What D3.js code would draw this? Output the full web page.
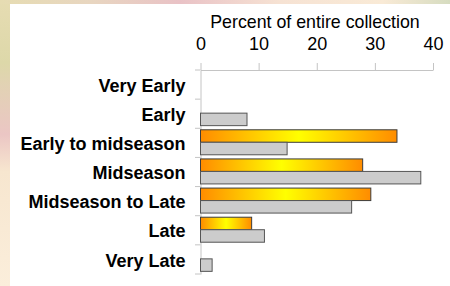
<!DOCTYPE html>
<html>
<head>
<meta charset="utf-8">
<script src="https://cdn.jsdelivr.net/npm/d3@7"></script>
<style>
  body { margin: 0; padding: 0; overflow: hidden; }
  #chart { width: 450px; height: 286px; }
  text { font-family: Arial, "Liberation Sans", sans-serif; fill: #000; }
</style>
</head>
<body>
<div id="chart"></div>
<script>
var width = 450,
height = 286;

// ripening season of the collection
var categories = ["Very Early", "Early", "Early to midseason", "Midseason", "Midseason to Late", "Late", "Very Late"];
var series = ["orange", "gray"];
var orangeValues = [0, 0, 33.8, 27.9, 29.3, 8.8, 0];
var grayValues = [0, 8.0, 14.9, 37.9, 26.0, 11.0, 2.0];
var xTicks = [0, 10, 20, 30, 40];

var svg = d3.select("#chart").append("svg")
  .attr("width", width)
  .attr("height", height);

var defs = svg.append("defs");

// the blurry photo border round the slide
var sideGrad = defs.append("linearGradient").attr("id", "side")
  .attr("x1", 0).attr("y1", 0).attr("x2", 0).attr("y2", 1);
[[0, "#e6dcb2"], [0.22, "#ddd8a9"], [0.3, "#e2d2b4"], [0.47, "#ebc6c4"], [0.6, "#f7e6cf"], [1, "#fbeedb"]].forEach(function(s){
  sideGrad.append("stop").attr("offset", s[0]).attr("stop-color", s[1]);
});
var topGrad = defs.append("linearGradient").attr("id", "topband")
  .attr("x1", 0).attr("y1", 0).attr("x2", 1).attr("y2", 0);
[[0, "#e6dcb2"], [0.2, "#e8d6c0"], [0.4, "#e9c2c6"], [0.62, "#f6e2d3"], [0.85, "#f9ead6"], [1, "#d6dcc0"]].forEach(function(s){
  topGrad.append("stop").attr("offset", s[0]).attr("stop-color", s[1]);
});

var fire = defs.append("linearGradient").attr("id", "fire")
  .attr("x1", 0).attr("y1", 0).attr("x2", 1).attr("y2", 0);
fire.append("stop").attr("offset", 0).attr("stop-color", "#ff8c00");
fire.append("stop").attr("offset", 0.5).attr("stop-color", "#ffff00");
fire.append("stop").attr("offset", 1).attr("stop-color", "#ff8c00");

svg.append("rect").attr("width", width).attr("height", height).attr("fill", "url(#side)");
svg.append("rect").attr("width", width).attr("height", 4).attr("fill", "url(#topband)");
svg.append("rect").attr("x", 10).attr("y", 4).attr("width", width - 10).attr("height", height - 4).attr("fill", "#fff");

var x = d3.scaleLinear().domain([0, 40]).range([200.5, 433]);
var y = d3.scaleBand().domain(categories).range([70, 274]);
var ySub = d3.scaleBand().domain(series).range([1.5, 26.5]);

// top axis
var xAxis = svg.append("g")
  .attr("transform", "translate(0,70)")
  .call(d3.axisTop(x).tickValues(xTicks).tickSize(7).tickPadding(13).tickSizeOuter(0));
xAxis.select(".domain").attr("stroke", "#c4c4c4");
xAxis.selectAll(".tick line").attr("stroke", "#c4c4c4");
xAxis.selectAll(".tick text").attr("font-size", "18px").attr("fill", "#000");

svg.append("text")
  .attr("x", 315)
  .attr("y", 28)
  .attr("text-anchor", "middle")
  .attr("font-size", "17.8px")
  .text("Percent of entire collection");

// category axis
var yAxis = svg.append("g")
  .attr("transform", "translate(200.5,0)")
  .call(d3.axisLeft(y).tickSize(0).tickPadding(15));
yAxis.select(".domain").attr("stroke", "#c4c4c4");
yAxis.selectAll(".tick text")
  .attr("font-size", "18px")
  .attr("font-weight", "bold")
  .attr("fill", "#000")
  .attr("dy", "0.4em");

svg.append("g").selectAll("line")
  .data(categories.concat(["end"]))
  .enter().append("line")
  .attr("x1", 195).attr("x2", 200.5)
  .attr("y1", function(d, i){ return i < categories.length ? y(d) : y.range()[1]; })
  .attr("y2", function(d, i){ return i < categories.length ? y(d) : y.range()[1]; })
  .attr("stroke", "#c4c4c4");

var rows = categories.map(function(c, i){
  return {cat: c, orange: orangeValues[i], gray: grayValues[i]};
});

var bars = svg.append("g");
series.forEach(function(s){
  bars.selectAll("rect." + s)
    .data(rows.filter(function(r){ return r[s] > 0; }))
    .enter().append("rect")
    .attr("class", s)
    .attr("x", x(0))
    .attr("y", function(r){ return y(r.cat) + ySub(s); })
    .attr("width", function(r){ return x(r[s]) - x(0); })
    .attr("height", ySub.bandwidth())
    .attr("fill", s == "orange" ? "url(#fire)" : "#cccccc")
    .attr("stroke", s == "orange" ? "#3c3c3c" : "#555")
    .attr("stroke-width", 1);
});
</script>
</body>
</html>
